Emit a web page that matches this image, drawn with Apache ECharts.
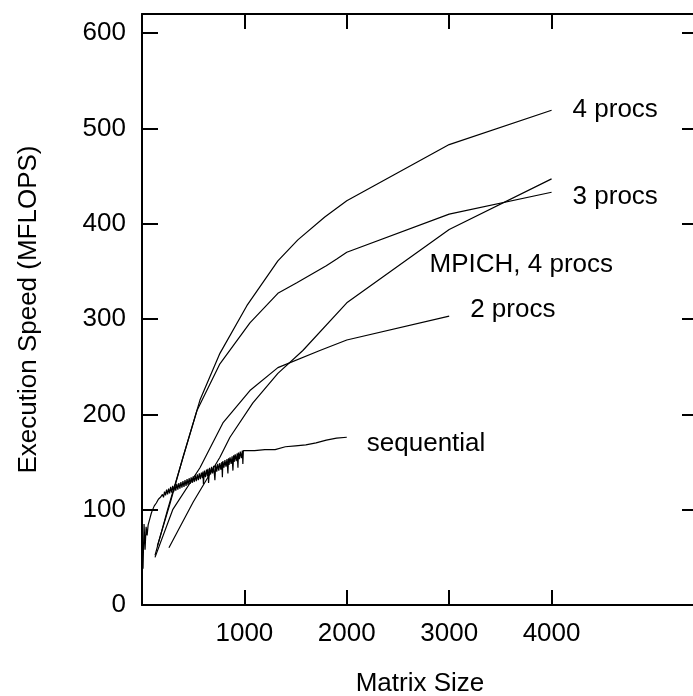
<!DOCTYPE html>
<html>
<head>
<meta charset="utf-8">
<script src="https://cdn.jsdelivr.net/npm/echarts@6/dist/echarts.min.js"></script>
<style>
html,body{margin:0;padding:0;background:#fff;}
#chart{width:693px;height:696px;}
</style>
</head>
<body>
<div id="chart"></div>
<script>
// Data (matrix size, MFLOPS)
const xTicks = [1000, 2000, 3000, 4000];
const yTicks = [0, 100, 200, 300, 400, 500, 600];

const procs4 = [[127,52],[250,100],[371,144],[566,215],[761,264],[1024,314],[1327,361],[1522,383],[1785,407],[2000,424],[3000,483],[4000,519]];
const procs3 = [[150,62],[270,105],[400,155],[537,204],[761,253],[1054,296],[1327,327],[1512,338],[1800,356],[1902,363],[2000,370],[3000,410],[4000,433]];
const procs2 = [[127,50],[300,100],[566,144],[790,191],[1054,225],[1327,249],[1737,267],[2000,278],[3000,303]];
const mpich4 = [[263,60],[500,108],[761,155],[859,176],[1083,212],[1327,243],[1571,267],[2000,317],[3000,394],[4000,447]];
const sequential = [[10,38],[20,85],[30,58],[40,82],[50,73],[60,84],[70,88],[80,92],[90,96],[100,99],[120,104],[140,107],[160,111],[180,113],
  [200,116],[210,113],[220,119],[230,115],[240,121],[250,116],[260,122],[270,117],[280,124],[290,118],[300,125],[310,119],[320,126],[330,120],
  [340,127],[350,121],[360,128],[370,122],[380,129],[390,123],[400,130],[410,124],[420,131],[430,125],[440,132],[450,126],[460,133],[470,127],
  [480,134],[490,128],[500,135],[510,129],[520,136],[530,130],[540,137],[550,131],[560,138],[570,132],[580,139],[590,133],[595,140],[600,127],
  [610,141],[620,134],[630,142],[640,135],[644,143],[650,128],[660,144],[670,137],[680,145],[690,138],[700,146],[712,131],[720,147],[730,140],
  [740,148],[750,141],[760,149],[770,142],[780,150],[785,134],[790,151],[800,144],[810,152],[820,145],[830,153],[839,138],[845,154],[850,147],
  [860,155],[870,148],[880,156],[888,141],[895,157],[900,150],[910,158],[920,151],[930,159],[937,144],[942,160],[950,153],[960,161],[970,154],
  [980,162],[985,148],[990,162],[1000,160],
  [1100,162],[1200,163],[1300,163],[1400,166],[1500,167],[1600,168],[1700,170],[1800,173],[1900,175],[2000,176]];

const FONT = 'Liberation Sans, Arial, sans-serif';
const FS = 26;

function lineSeries(name, data, label) {
  return {
    name: name, type: 'line', data: data, symbol: 'none', smooth: false,
    lineStyle: {color: '#000', width: 1.2},
    endLabel: Object.assign({show: true, formatter: name, color: '#000', fontFamily: FONT, fontSize: FS}, label),
    z: 3
  };
}
const plain = v => String(v);

const chart = echarts.init(document.getElementById('chart'), null, {renderer: 'canvas'});
chart.setOption({
  animation: false,
  backgroundColor: '#fff',
  grid: {left: 142, top: 14, width: 556, height: 591, show: false, containLabel: false, outerBoundsMode: 'none'},
  xAxis: [{
    type: 'value', min: 0, max: 5430, position: 'bottom',
    name: 'Matrix Size', nameLocation: 'middle', nameGap: 66,
    nameTextStyle: {color: '#000', fontFamily: FONT, fontSize: FS},
    axisLine: {show: true, onZero: false, lineStyle: {color: '#000', width: 2}},
    axisTick: {show: true, inside: true, length: 15, customValues: xTicks, lineStyle: {color: '#000', width: 2}},
    axisLabel: {show: true, customValues: xTicks, formatter: plain, color: '#000', fontFamily: FONT, fontSize: FS, margin: 16},
    splitLine: {show: false}
  }, {
    type: 'value', min: 0, max: 5430, position: 'top',
    axisLine: {show: true, onZero: false, lineStyle: {color: '#000', width: 2}},
    axisTick: {show: true, inside: true, length: 15, customValues: xTicks, lineStyle: {color: '#000', width: 2}},
    axisLabel: {show: false},
    splitLine: {show: false}
  }],
  yAxis: [{
    type: 'value', min: 0, max: 620, position: 'left',
    name: 'Execution Speed (MFLOPS)', nameLocation: 'middle', nameGap: 100, nameRotate: 90,
    nameTextStyle: {color: '#000', fontFamily: FONT, fontSize: FS},
    axisLine: {show: true, onZero: false, lineStyle: {color: '#000', width: 2}},
    axisTick: {show: true, inside: true, length: 16, customValues: yTicks, lineStyle: {color: '#000', width: 2}},
    axisLabel: {show: true, customValues: yTicks, formatter: plain, color: '#000', fontFamily: FONT, fontSize: FS, margin: 16},
    splitLine: {show: false}
  }, {
    type: 'value', min: 0, max: 620, position: 'right',
    axisLine: {show: true, onZero: false, lineStyle: {color: '#000', width: 2}},
    axisTick: {show: true, inside: true, length: 16, customValues: yTicks, lineStyle: {color: '#000', width: 2}},
    axisLabel: {show: false},
    splitLine: {show: false}
  }],
  series: [
    lineSeries('4 procs', procs4, {distance: 21}),
    lineSeries('3 procs', procs3, {distance: 21, offset: [0, 5]}),
    lineSeries('MPICH, 4 procs', mpich4, {distance: 0, offset: [-122, 86]}),
    lineSeries('2 procs', procs2, {distance: 21, offset: [0, -6]}),
    lineSeries('sequential', sequential, {distance: 20, offset: [0, 7]})
  ]
});
</script>
</body>
</html>
